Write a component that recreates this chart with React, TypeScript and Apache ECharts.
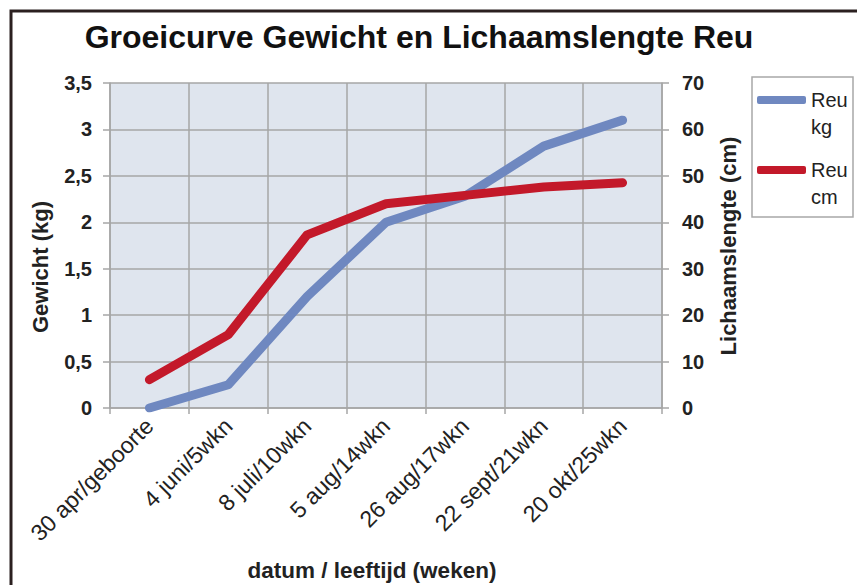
import React, { useEffect, useRef } from "react";
import * as echarts from "echarts";

const categories = [
  "30 apr/geboorte",
  "4 juni/5wkn",
  "8 juli/10wkn",
  "5 aug/14wkn",
  "26 aug/17wkn",
  "22 sept/21wkn",
  "20 okt/25wkn",
];
const weightKg = [0, 0.25, 1.2, 2.0, 2.28, 2.82, 3.1];
const lengthCm = [6.1, 15.8, 37.3, 44.0, 45.8, 47.6, 48.5];
const seriesNames = ["Reu kg", "Reu cm"];
const titleText = "Groeicurve Gewicht en Lichaamslengte Reu";
const leftAxisName = "Gewicht (kg)";
const rightAxisName = "Lichaamslengte (cm)";
const xAxisName = "datum / leeftijd (weken)";

const FONT = "'Liberation Sans', Arial, Helvetica, sans-serif";

export default function App() {
  const ref = useRef<HTMLDivElement>(null);
  useEffect(() => {
    if (!ref.current) return;
    const chart = echarts.init(ref.current, undefined, { renderer: "svg" });
    const gridLeft = 110;
    const gridRight = 662;
    const gridTop = 83;
    const gridBottom = 408;
    chart.setOption({
      animation: false,
      backgroundColor: "#ffffff",
      textStyle: { fontFamily: FONT },
      title: {
        text: titleText,
        left: 414,
        textAlign: "center",
        top: 16,
        textStyle: { fontFamily: FONT, fontSize: 32, fontWeight: "bold", color: "#111" },
      },
      legend: {
        orient: "vertical",
        left: 757,
        top: 59.5,
        padding: 0,
        itemGap: -11,
        itemWidth: 49,
        itemHeight: 8,
        icon: "roundRect",
        borderWidth: 0,
        formatter: (n: string) => " \n" + n.replace(" ", "\n"),
        textStyle: {
          fontFamily: FONT,
          fontSize: 20,
          color: "#222",
          lineHeight: 27,
        },
        data: seriesNames,
      },
      grid: {
        left: gridLeft,
        right: 857 - gridRight,
        top: gridTop,
        bottom: 585 - gridBottom,
        show: true,
        backgroundColor: "#dfe5ee",
        borderWidth: 0,
      },
      xAxis: {
        type: "category",
        data: categories,
        boundaryGap: true,
        axisLine: { show: true, lineStyle: { color: "#a6a6a6", width: 1.5 } },
        axisTick: { show: true, alignWithLabel: false, length: 6, lineStyle: { color: "#a6a6a6", width: 1.5 } },
        splitLine: { show: true, lineStyle: { color: "#a6a6a6", width: 1.5 } },
        axisLabel: {
          rotate: 45,
          margin: 14,
          interval: 0,
          fontFamily: FONT,
          fontSize: 23,
          color: "#222",
        },
      },
      yAxis: [
        {
          type: "value",
          min: 0,
          max: 3.5,
          interval: 0.5,
          position: "left",
          axisLine: { show: true, lineStyle: { color: "#a6a6a6", width: 1.5 } },
          axisTick: { show: true, length: 7, lineStyle: { color: "#a6a6a6", width: 1.5 } },
          splitLine: { show: true, lineStyle: { color: "#a6a6a6", width: 1.5 } },
          axisLabel: {
            margin: 18,
            fontFamily: FONT,
            fontSize: 20,
            fontWeight: "bold",
            color: "#222",
            formatter: (v: number) => String(v).replace(".", ","),
          },
        },
        {
          type: "value",
          min: 0,
          max: 70,
          interval: 10,
          position: "right",
          axisLine: { show: true, lineStyle: { color: "#a6a6a6", width: 1.5 } },
          axisTick: { show: true, length: 7, lineStyle: { color: "#a6a6a6", width: 1.5 } },
          splitLine: { show: false },
          axisLabel: {
            margin: 20,
            fontFamily: FONT,
            fontSize: 20,
            fontWeight: "bold",
            color: "#222",
          },
        },
      ],
      series: [
        {
          name: seriesNames[0],
          type: "line",
          yAxisIndex: 0,
          data: weightKg,
          symbol: "none",
          lineStyle: { color: "#6f88c0", width: 9, cap: "round", join: "round" },
          itemStyle: { color: "#6f88c0" },
          z: 3,
        },
        {
          name: seriesNames[1],
          type: "line",
          yAxisIndex: 1,
          data: lengthCm,
          symbol: "none",
          lineStyle: { color: "#c3192a", width: 9, cap: "round", join: "round" },
          itemStyle: { color: "#c3192a" },
          z: 4,
        },
      ],
      graphic: [
        {
          type: "rect",
          shape: { x: 11, y: 11, width: 900, height: 700 },
          style: { fill: "none", stroke: "#2b2020", lineWidth: 3 },
          silent: true,
          z: 0,
        },
        {
          type: "rect",
          shape: { x: 752, y: 77, width: 101, height: 140 },
          style: { fill: "#ffffff", stroke: "#a8a8a8", lineWidth: 1.5 },
          silent: true,
          z: -1,
        },
        {
          type: "text",
          x: 40,
          y: 267,
          rotation: Math.PI / 2,
          style: {
            text: leftAxisName,
            font: `bold 22px ${FONT}`,
            fill: "#222",
            align: "center",
            verticalAlign: "middle",
          },
        },
        {
          type: "text",
          x: 728,
          y: 246,
          rotation: Math.PI / 2,
          style: {
            text: rightAxisName,
            font: `bold 22px ${FONT}`,
            fill: "#222",
            align: "center",
            verticalAlign: "middle",
          },
        },
        {
          type: "text",
          x: 372,
          y: 570,
          style: {
            text: xAxisName,
            font: `bold 22.5px ${FONT}`,
            fill: "#222",
            align: "center",
            verticalAlign: "middle",
          },
        },
      ],
    });
    return () => chart.dispose();
  }, []);
  return (
    <div
      ref={ref}
      style={{ position: "fixed", left: 0, top: 0, width: 857, height: 585 }}
    />
  );
}
